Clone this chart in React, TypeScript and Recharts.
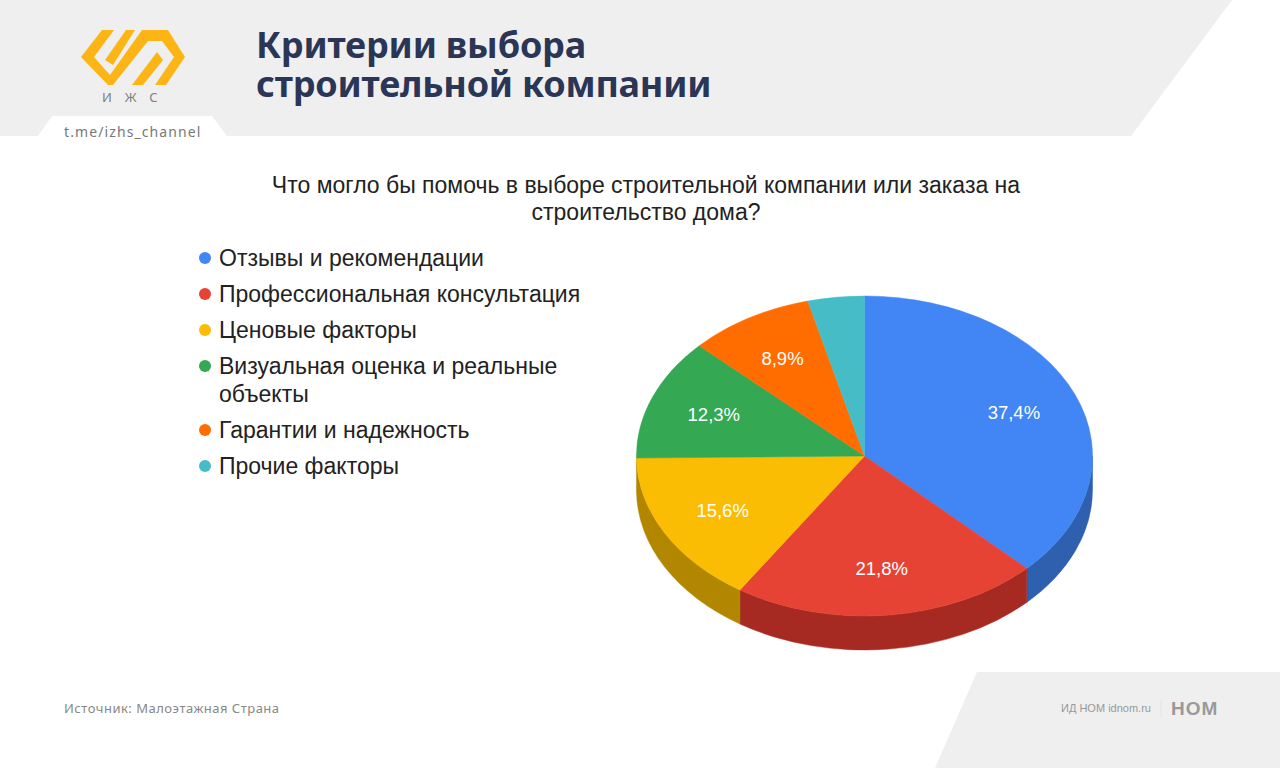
import { Legend, Pie, PieChart } from 'recharts'

const CATEGORIES = [
  'Отзывы и рекомендации',
  'Профессиональная консультация',
  'Ценовые факторы',
  'Визуальная оценка и реальные объекты',
  'Гарантии и надежность',
  'Прочие факторы',
]
const VALUES = [37.4, 21.8, 15.6, 12.3, 8.9, 4.0]
const TOP_COLORS = ['#4285f4', '#e64335', '#fbbc04', '#34a853', '#ff6d01', '#46bdc6']
const SIDE_COLORS = ['#2f5faf', '#a62a22', '#b38600', '#257a3c', '#b54d01', '#328790']

const TILT = 160 / 228
const DEPTH = 34
const SANS = '"Liberation Sans", Arial, sans-serif'
const DECOR = '"Noto Sans", sans-serif'

const topData = CATEGORIES.map((name, i) => ({ name, value: VALUES[i], fill: TOP_COLORS[i] }))
const sideData = CATEGORIES.map((name, i) => ({ name, value: VALUES[i], fill: SIDE_COLORS[i] }))

const rim = (cx: number, cy: number, r: number, deg: number) => {
  const a = (deg * Math.PI) / 180
  return { x: cx + r * Math.cos(a), y: cy - r * TILT * Math.sin(a) }
}

function TopSlice(props: any) {
  const { cx, cy, outerRadius: r, startAngle, endAngle, fill } = props
  const p1 = rim(cx, cy, r, startAngle)
  const p2 = rim(cx, cy, r, endAngle)
  const large = Math.abs(startAngle - endAngle) > 180 ? 1 : 0
  const d = `M${cx},${cy}L${p1.x},${p1.y}A${r},${r * TILT} 0 ${large} 1 ${p2.x},${p2.y}Z`
  return <path d={d} fill={fill} stroke={fill} strokeWidth={0.5} />
}

// only the front half of the rim shows below the top face
function SideSlice(props: any) {
  const { cx, cy, outerRadius: r, startAngle, endAngle, fill } = props
  const from = Math.min(startAngle, 0)
  const to = Math.max(endAngle, -180)
  if (from - to < 1) return null
  const p1 = rim(cx, cy, r, from)
  const p2 = rim(cx, cy, r, to)
  const ry = r * TILT
  const d =
    `M${p1.x},${p1.y}A${r},${ry} 0 0 1 ${p2.x},${p2.y}` +
    `L${p2.x},${p2.y + DEPTH}A${r},${ry} 0 0 0 ${p1.x},${p1.y + DEPTH}Z`
  return <path d={d} fill={fill} stroke={fill} strokeWidth={0.5} />
}

function sliceLabel(props: any) {
  const { cx, cy, outerRadius, midAngle, value } = props
  if (value < 5) return null
  const p = rim(cx, cy, outerRadius * 0.71, midAngle)
  return (
    <text
      x={p.x}
      y={p.y}
      fill="#ffffff"
      fontSize={18.5}
      fontFamily={SANS}
      textAnchor="middle"
      dominantBaseline="central"
    >
      {value.toFixed(1).replace('.', ',')}%
    </text>
  )
}

function LegendList() {
  return (
    <div style={{ fontFamily: SANS, fontSize: 23, lineHeight: '28px', color: '#222' }}>
      {CATEGORIES.map((name, i) => (
        <div key={name} style={{ position: 'relative', paddingLeft: 27, marginBottom: 8 }}>
          <span
            style={{
              position: 'absolute',
              left: 7,
              top: 8,
              width: 12,
              height: 12,
              borderRadius: 6,
              background: TOP_COLORS[i],
            }}
          />
          {name}
        </div>
      ))}
    </div>
  )
}

const textAt = (left: number, top: number, extra: object) => ({
  position: 'absolute' as const,
  left,
  top,
  whiteSpace: 'nowrap' as const,
  ...extra,
})

export default function App() {
  return (
    <div style={{ position: 'absolute', left: 0, top: 0, width: 1280, height: 768, background: '#fff', overflow: 'hidden' }}>
      <svg width={1280} height={768} style={{ position: 'absolute', left: 0, top: 0 }}>
        <polygon points="0,0 1232,0 1131,136 0,136" fill="#efeff0" />
        <polygon points="38,136 52,116 212,116 227,136" fill="#ffffff" />
        <polygon points="977,672 1280,672 1280,768 935,768" fill="#efeff0" />
        <polygon
          points="102,30 114,30 94,57 110,75 142,30 168,30 185,57 166,85 155,85 174,57 162,41 148,41 113,85 108,85 81,57"
          fill="#fdb515"
        />
        <polygon points="126,30 135,30 113,65 105,60" fill="#fdb515" />
        <polygon points="132,85 157,52 163,60 143,85" fill="#fdb515" />
        <line x1={1161} y1={700} x2={1161} y2={717} stroke="#e2e2e2" />
      </svg>

      <div style={textAt(102, 88, { fontFamily: DECOR, fontSize: 13, letterSpacing: 13, color: '#808080', lineHeight: '18px' })}>ИЖС</div>
      <div style={textAt(64, 122, { fontFamily: DECOR, fontSize: 14, letterSpacing: 1.1, color: '#777', lineHeight: '20px' })}>t.me/izhs_channel</div>
      <div style={textAt(256, 25, { fontFamily: DECOR, fontWeight: 700, fontSize: 36, letterSpacing: -0.2, color: '#2b3556', lineHeight: '39px' })}>
        Критерии выбора
        <br />
        строительной компании
      </div>
      <div
        style={{
          position: 'absolute',
          left: 246,
          width: 800,
          top: 172,
          textAlign: 'center',
          fontFamily: SANS,
          fontSize: 23,
          lineHeight: '27px',
          color: '#222',
        }}
      >
        Что могло бы помочь в выборе строительной компании или заказа на
        <br />
        строительство дома?
      </div>
      <div style={textAt(64, 699, { fontFamily: DECOR, fontSize: 13, letterSpacing: 0.5, color: '#888', lineHeight: '18px' })}>Источник: Малоэтажная Страна</div>
      <div style={textAt(1061, 700, { fontFamily: SANS, fontSize: 11, color: '#999', lineHeight: '16px' })}>ИД НОМ idnom.ru</div>
      <div style={textAt(1171, 697, { fontFamily: SANS, fontWeight: 700, fontSize: 19, letterSpacing: 1, color: '#999', lineHeight: '24px' })}>НОМ</div>

      <div style={{ position: 'absolute', left: 0, top: 0 }}>
        <PieChart width={1280} height={768} margin={{ top: 0, right: 0, bottom: 0, left: 0 }}>
          <Pie
            data={sideData}
            dataKey="value"
            nameKey="name"
            cx={864.5}
            cy={456}
            outerRadius={228}
            startAngle={90}
            endAngle={-270}
            shape={SideSlice}
            legendType="none"
            isAnimationActive={false}
          />
          <Pie
            data={topData}
            dataKey="value"
            nameKey="name"
            cx={864.5}
            cy={456}
            outerRadius={228}
            startAngle={90}
            endAngle={-270}
            shape={TopSlice}
            label={sliceLabel}
            labelLine={false}
            isAnimationActive={false}
          />
          <Legend
            content={<LegendList />}
            wrapperStyle={{ position: 'absolute', left: 192, top: 244, width: 400, height: 240 }}
          />
        </PieChart>
      </div>
    </div>
  )
}
